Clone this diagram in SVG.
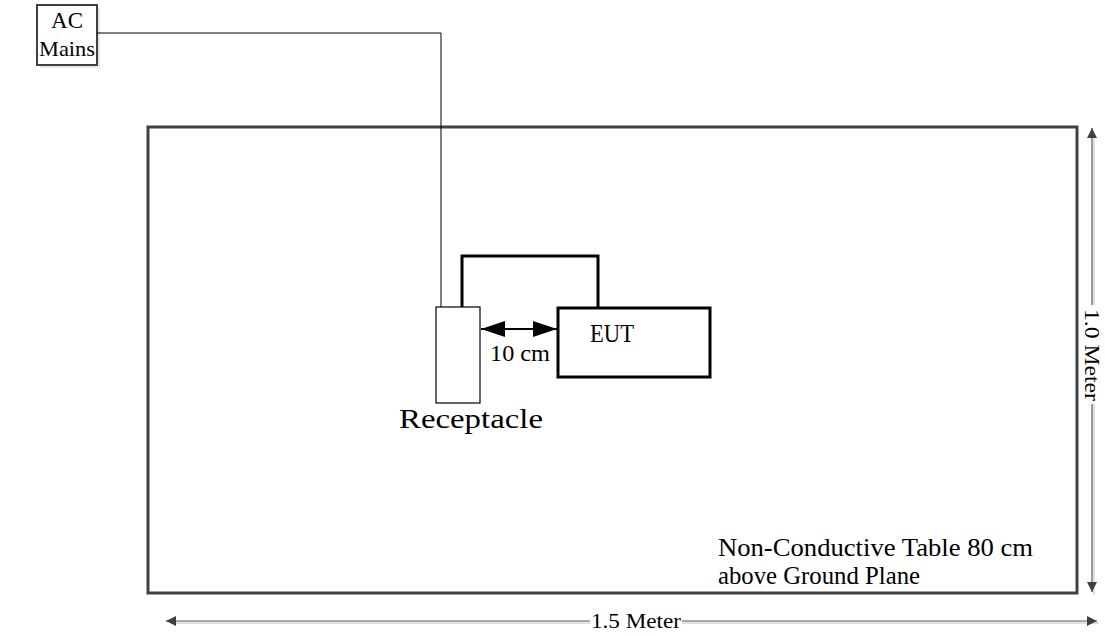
<svg xmlns="http://www.w3.org/2000/svg" width="1105" height="635" viewBox="0 0 1105 635">
<style>
.serif{font-family:"Liberation Serif","Times New Roman",serif;fill:#000}
.simsun{font-family:"Liberation Serif","Times New Roman",serif;fill:#000}
.thick{fill:none;stroke:#000;stroke-width:3}
.thin{fill:none;stroke:#000;stroke-width:1}
.dim{fill:none;stroke:#555;stroke-width:1.2}
.shadow{fill:none;stroke:#e0e0e0;stroke-width:2}
</style>
<defs>
<marker id="ah" viewBox="0 0 10 10" refX="10" refY="5" markerWidth="10" markerHeight="10" markerUnits="userSpaceOnUse" orient="auto-start-reverse">
<path d="M0,0 L10,5 L0,10 Z" fill="#404040"/>
</marker>
<marker id="ab" viewBox="0 0 10 10" refX="10" refY="5" markerWidth="24" markerHeight="16" markerUnits="userSpaceOnUse" orient="auto-start-reverse" preserveAspectRatio="none">
<path d="M0,0 L10,5 L0,10 Z" fill="#000"/>
</marker>
</defs>
<rect width="1105" height="635" fill="#fff"/>
<g id="ac-mains">
<rect x="40" y="8" width="60" height="60" fill="#e8e8e8"/>
<rect x="37" y="5" width="60" height="60" fill="#fff" stroke="#404040" stroke-width="2"/>
<text class="serif" x="67" y="28" font-size="23" text-anchor="middle">AC</text>
<text class="serif" x="67" y="56" font-size="22" text-anchor="middle" textLength="56" lengthAdjust="spacingAndGlyphs">Mains</text>
</g>
<g id="table">
<rect x="148" y="127" width="929" height="466" fill="none" stroke="#404040" stroke-width="3"/>
<text class="serif" x="718" y="556" font-size="25" textLength="315" lengthAdjust="spacingAndGlyphs">Non-Conductive Table 80 cm</text>
<text class="serif" x="718" y="584" font-size="25" textLength="202" lengthAdjust="spacingAndGlyphs">above Ground Plane</text>
</g>
<g id="receptacle">
<rect x="436" y="307" width="44" height="96" fill="#fff" stroke="#000" stroke-width="1.2"/>
<text class="simsun" x="399" y="428" font-size="27" textLength="144" lengthAdjust="spacingAndGlyphs">Receptacle</text>
</g>
<g id="eut">
<rect x="558" y="308" width="152" height="69" fill="#fff" stroke="#000" stroke-width="3"/>
<text class="simsun" x="590" y="342" font-size="26" textLength="44" lengthAdjust="spacingAndGlyphs">EUT</text>
</g>
<g id="connectors">
<polyline class="thin" points="97,33 441,33 441,307" stroke="#333"/>
<polyline class="thick" points="462,307 462,256 598,256 598,308"/>
<line x1="481" y1="329" x2="557" y2="329" stroke="#000" stroke-width="2" marker-start="url(#ab)" marker-end="url(#ab)"/>
<text class="simsun" x="490" y="361" font-size="23" textLength="60" lengthAdjust="spacingAndGlyphs">10 cm</text>
<line class="shadow" x1="1094" y1="133" x2="1094" y2="305"/>
<line class="shadow" x1="1094" y1="404" x2="1094" y2="595"/>
<line class="dim" x1="1092" y1="128" x2="1092" y2="305" marker-start="url(#ah)"/>
<line class="dim" x1="1092" y1="404" x2="1092" y2="592" marker-end="url(#ah)"/>
<text class="serif" font-size="22" text-anchor="middle" textLength="92" lengthAdjust="spacingAndGlyphs" transform="translate(1085,355) rotate(90)">1.0 Meter</text>
<line class="shadow" x1="172" y1="623" x2="590" y2="623"/>
<line class="shadow" x1="682" y1="623" x2="1099" y2="623"/>
<line class="dim" x1="166" y1="621" x2="590" y2="621" marker-start="url(#ah)"/>
<line class="dim" x1="682" y1="621" x2="1097" y2="621" marker-end="url(#ah)"/>
<text class="serif" x="636" y="628" font-size="22" text-anchor="middle" textLength="90" lengthAdjust="spacingAndGlyphs">1.5 Meter</text>
</g>
</svg>
